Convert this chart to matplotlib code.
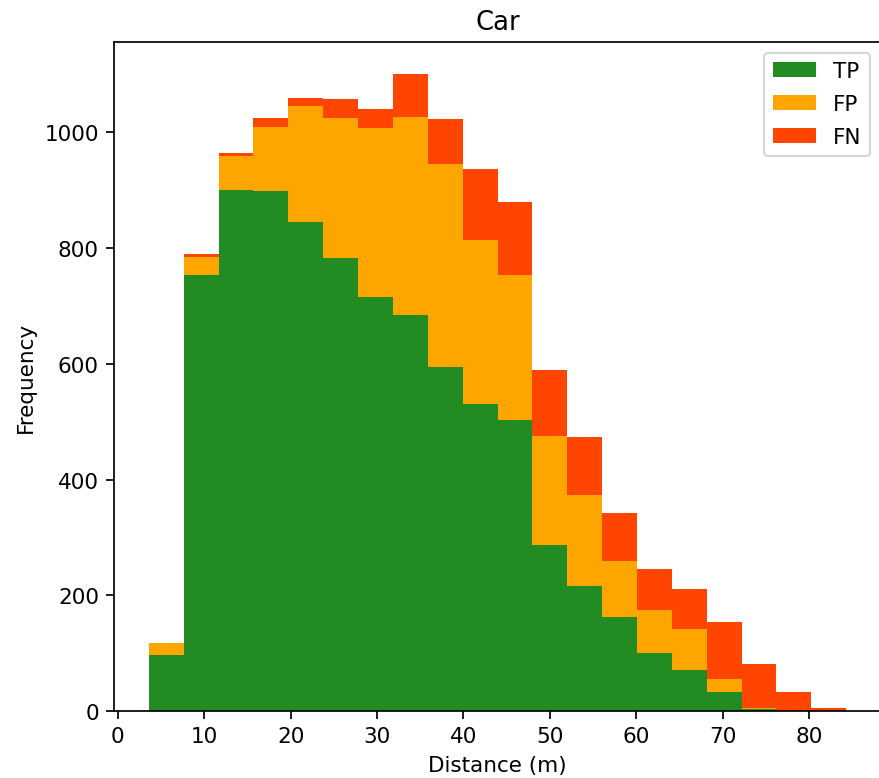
"""Stacked distance histogram of TP / FP / FN for the Car class."""

import matplotlib
matplotlib.use("Agg")
import matplotlib.pyplot as plt
import numpy as np

# ── data (counts per distance bin) ───────────────────────────────────────────
d_min, d_max, n_bins = 3.6, 84.3, 20
tp = [97, 753, 900, 898, 845, 782, 716, 685, 594, 530,
      503, 287, 216, 162, 100, 70, 32, 4, 0, 0]
fp = [21, 31, 59, 112, 200, 243, 291, 342, 352, 284,
      251, 188, 157, 98, 74, 72, 23, 1, 0, 0]
fn = [0, 5, 5, 14, 15, 32, 33, 74, 77, 122,
      126, 114, 100, 83, 72, 69, 98, 77, 32, 6]
labels = ["TP", "FP", "FN"]
colors = ["forestgreen", "orange", "orangered"]

edges = np.linspace(d_min, d_max, n_bins + 1)
centers = (edges[:-1] + edges[1:]) / 2

# ── figure ───────────────────────────────────────────────────────────────────
DPI = 155
fig = plt.figure(figsize=(879 / DPI, 779 / DPI), dpi=DPI)
ax = fig.add_axes([114 / 879, 67 / 779, 767 / 879, 669 / 779])

ax.hist([centers, centers, centers], bins=edges, weights=[tp, fp, fn],
        stacked=True, color=colors, label=labels)

# reference is cropped just before the right spine
ax.spines["right"].set_visible(False)

ax.set_title("Car")
ax.set_xlabel("Distance (m)")
ax.set_ylabel("Frequency")
ax.legend(loc="upper right", labelspacing=0.6)

plt.savefig("out.png", dpi=DPI)
